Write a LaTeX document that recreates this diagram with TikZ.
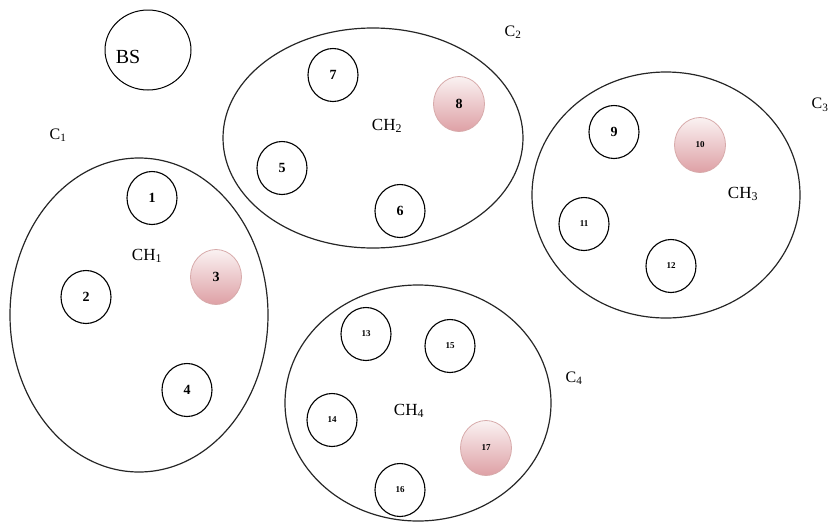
\documentclass[tikz,border=0pt]{standalone}
\usepackage{fontspec}
\setmainfont{Liberation Serif}
\usetikzlibrary{shapes.geometric}
\begin{document}
\begin{tikzpicture}[x=1pt,y=-1pt,
  cluster/.style={draw=black!85,line width=1.2pt,ellipse,inner sep=0pt},
  sensor/.style={draw=black,line width=1.1pt,ellipse,minimum width=50pt,minimum height=53pt,inner sep=0pt,font=\bfseries\fontsize{14}{14}\selectfont},
  smallsensor/.style={sensor,font=\bfseries\fontsize{9}{9}\selectfont},
  headnode/.style={ellipse,minimum width=51pt,minimum height=55pt,inner sep=0pt,draw={rgb,255:red,215;green,170;blue,170},line width=0.8pt,
    top color={rgb,255:red,250;green,242;blue,242},bottom color={rgb,255:red,222;green,160;blue,165},font=\bfseries\fontsize{14}{14}\selectfont},
  smallhead/.style={headnode,font=\bfseries\fontsize{9}{9}\selectfont},
  chlabel/.style={font=\fontsize{17}{17}\selectfont},
  clabel/.style={font=\fontsize{16}{16}\selectfont}]
\useasboundingbox (0,0) rectangle (831,523);
% base station
\node[draw=black,line width=1pt,ellipse,minimum width=86pt,minimum height=80pt] (bs) at (148,50) {};
\node[font=\fontsize{20}{20}\selectfont] (bstext) at (128,57) {BS};
% clusters
\node[cluster,minimum width=258pt,minimum height=314pt] (c1) at (139,315) {};
\node[cluster,minimum width=300pt,minimum height=220pt] (c2) at (373,138) {};
\node[cluster,minimum width=268pt,minimum height=246pt] (c3) at (666,195) {};
\node[cluster,minimum width=266pt,minimum height=236pt] (c4) at (418,403) {};
% cluster labels
\node[clabel] (l1) at (58,135) {C\textsubscript{1}};
\node[clabel] (l2) at (513,32) {C\textsubscript{2}};
\node[clabel,inner sep=0pt] (l3) at (820,105) {C\textsubscript{3}};
\node[clabel] (l4) at (574,378) {C\textsubscript{4}};
% cluster 1
\node[sensor] (n1) at (152,198) {1};
\node[sensor] (n2) at (86,297) {2};
\node[headnode] (n3) at (216,277) {3};
\node[sensor] (n4) at (187,390) {4};
\node[chlabel] (ch1) at (147,256) {CH\textsubscript{1}};
% cluster 2
\node[sensor] (n7) at (333,75) {7};
\node[headnode] (n8) at (459,104) {8};
\node[sensor] (n5) at (282,168) {5};
\node[sensor] (n6) at (400,211) {6};
\node[chlabel] (ch2) at (387,126) {CH\textsubscript{2}};
% cluster 3
\node[sensor] (n9) at (614,132) {9};
\node[smallhead] (n10) at (700,145) {10};
\node[smallsensor] (n11) at (584,224) {11};
\node[smallsensor] (n12) at (671,266) {12};
\node[chlabel] (ch3) at (743,194) {CH\textsubscript{3}};
% cluster 4
\node[smallsensor] (n13) at (366,334) {13};
\node[smallsensor] (n15) at (450,346) {15};
\node[smallsensor] (n14) at (332,420) {14};
\node[smallhead] (n17) at (486,448) {17};
\node[smallsensor] (n16) at (400,490) {16};
\node[chlabel] (ch4) at (409,411) {CH\textsubscript{4}};
\end{tikzpicture}
\end{document}
